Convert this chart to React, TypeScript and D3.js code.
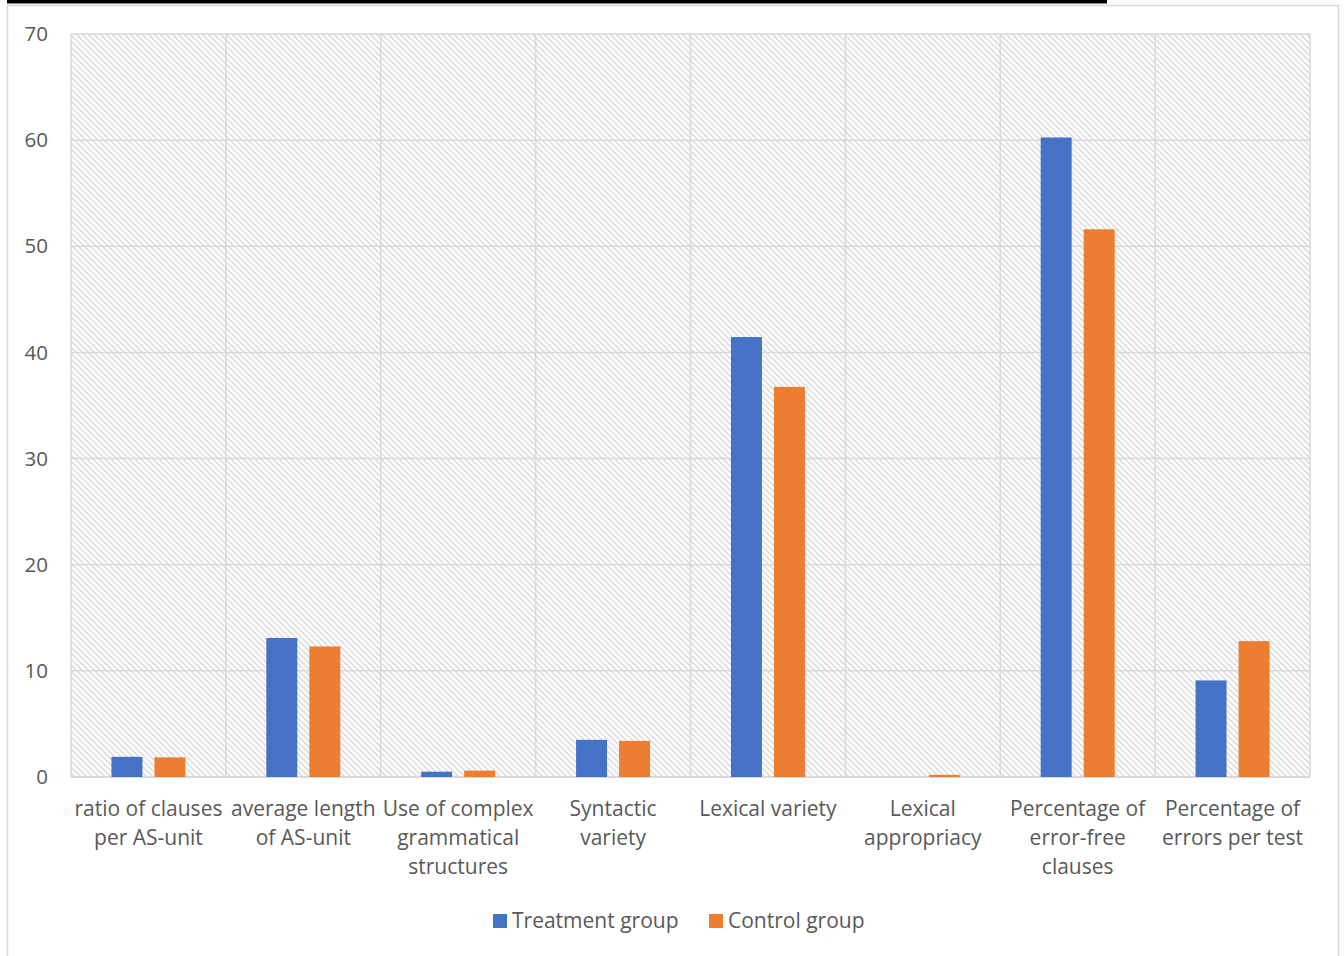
import React from "react";
import * as d3 from "d3";

const categories: string[][] = [
  ["ratio of clauses", "per AS-unit"],
  ["average length", "of AS-unit"],
  ["Use of complex", "grammatical", "structures"],
  ["Syntactic", "variety"],
  ["Lexical variety"],
  ["Lexical", "appropriacy"],
  ["Percentage of", "error-free", "clauses"],
  ["Percentage of", "errors per test"],
];
const seriesNames = ["Treatment group", "Control group"];
const treatment = [1.9, 13.1, 0.5, 3.5, 41.45, 0, 60.25, 9.1];
const control = [1.85, 12.3, 0.6, 3.4, 36.75, 0.2, 51.6, 12.8];
const colors = ["#4472C4", "#ED7D31"];
const yTicks = [0, 10, 20, 30, 40, 50, 60, 70];

export default function App() {
  const W = 1344, H = 956;
  const left = 71, right = 1310, top = 34, bottom = 777;
  const keys = categories.map((c, i) => String(i));
  const x = d3.scaleBand<string>().domain(keys).range([left, right]).padding(0);
  const y = d3.scaleLinear().domain([0, 70]).range([bottom, top]);
  const inner = d3.scaleBand<string>().domain(seriesNames).range([0, 74]).paddingInner(0.28);
  const values = [treatment, control];
  const font = "'Open Sans', 'Noto Sans', sans-serif";
  const textColor = "#595959";
  const grid = "#d9d9d9";

  return (
    <svg width={W} height={H} style={{ position: "absolute", left: 0, top: 0 }} fontFamily={font}>
      <defs>
        <pattern id="hatch" patternUnits="userSpaceOnUse" width={6} height={6}>
          <rect width={6} height={6} fill="#ffffff" />
          <path d="M-1,-1 L7,7 M-4,2 L2,8 M2,-4 L8,2" stroke="#dedede" strokeWidth={1.6} />
        </pattern>
      </defs>
      <rect x={0} y={0} width={W} height={H} fill="#fff" />
      <rect x={7} y={0} width={1100} height={3.5} fill="#000" />
      <rect x={7.5} y={5.5} width={1331} height={H} fill="#fff" stroke={grid} strokeWidth={1.5} />
      <rect x={left} y={top} width={right - left} height={bottom - top} fill="url(#hatch)" />
      {yTicks.map((t) => (
        <line key={"g" + t} x1={left} x2={right} y1={y(t)} y2={y(t)} stroke={grid} strokeWidth={1.5} />
      ))}
      {keys.map((k, i) => (
        <line key={"v" + k} x1={x(k)!} x2={x(k)!} y1={top} y2={bottom} stroke={grid} strokeWidth={1.5} />
      ))}
      <line x1={right} x2={right} y1={top} y2={bottom} stroke={grid} strokeWidth={1.5} />
      <line x1={left} x2={right} y1={bottom} y2={bottom} stroke={grid} strokeWidth={2} />
      {yTicks.map((t) => (
        <text key={"t" + t} x={48} y={y(t)} dy="0.35em" textAnchor="end" fontSize={20.5} fill={textColor}>
          {t}
        </text>
      ))}
      {keys.map((k, i) => {
        const cx = x(k)! + x.bandwidth() / 2;
        return (
          <g key={"b" + k}>
            {seriesNames.map((s, si) => {
              const v = values[si][i];
              if (v <= 0) return null;
              const bx = cx - 37 + inner(s)!;
              return (
                <rect key={s} x={bx} y={y(v)} width={inner.bandwidth()} height={bottom - y(v)} fill={colors[si]} />
              );
            })}
            {categories[i].map((line, li) => (
              <text key={li} x={cx} y={809 + li * 29} dy="0.35em" textAnchor="middle" fontSize={21} fill={textColor}>
                {line}
              </text>
            ))}
          </g>
        );
      })}
      <g>
        <rect x={493} y={914} width={14} height={14} fill={colors[0]} />
        <text x={512} y={921} dy="0.35em" fontSize={21} fill={textColor}>{seriesNames[0]}</text>
        <rect x={709} y={914} width={14} height={14} fill={colors[1]} />
        <text x={728} y={921} dy="0.35em" fontSize={21} fill={textColor}>{seriesNames[1]}</text>
      </g>
    </svg>
  );
}
